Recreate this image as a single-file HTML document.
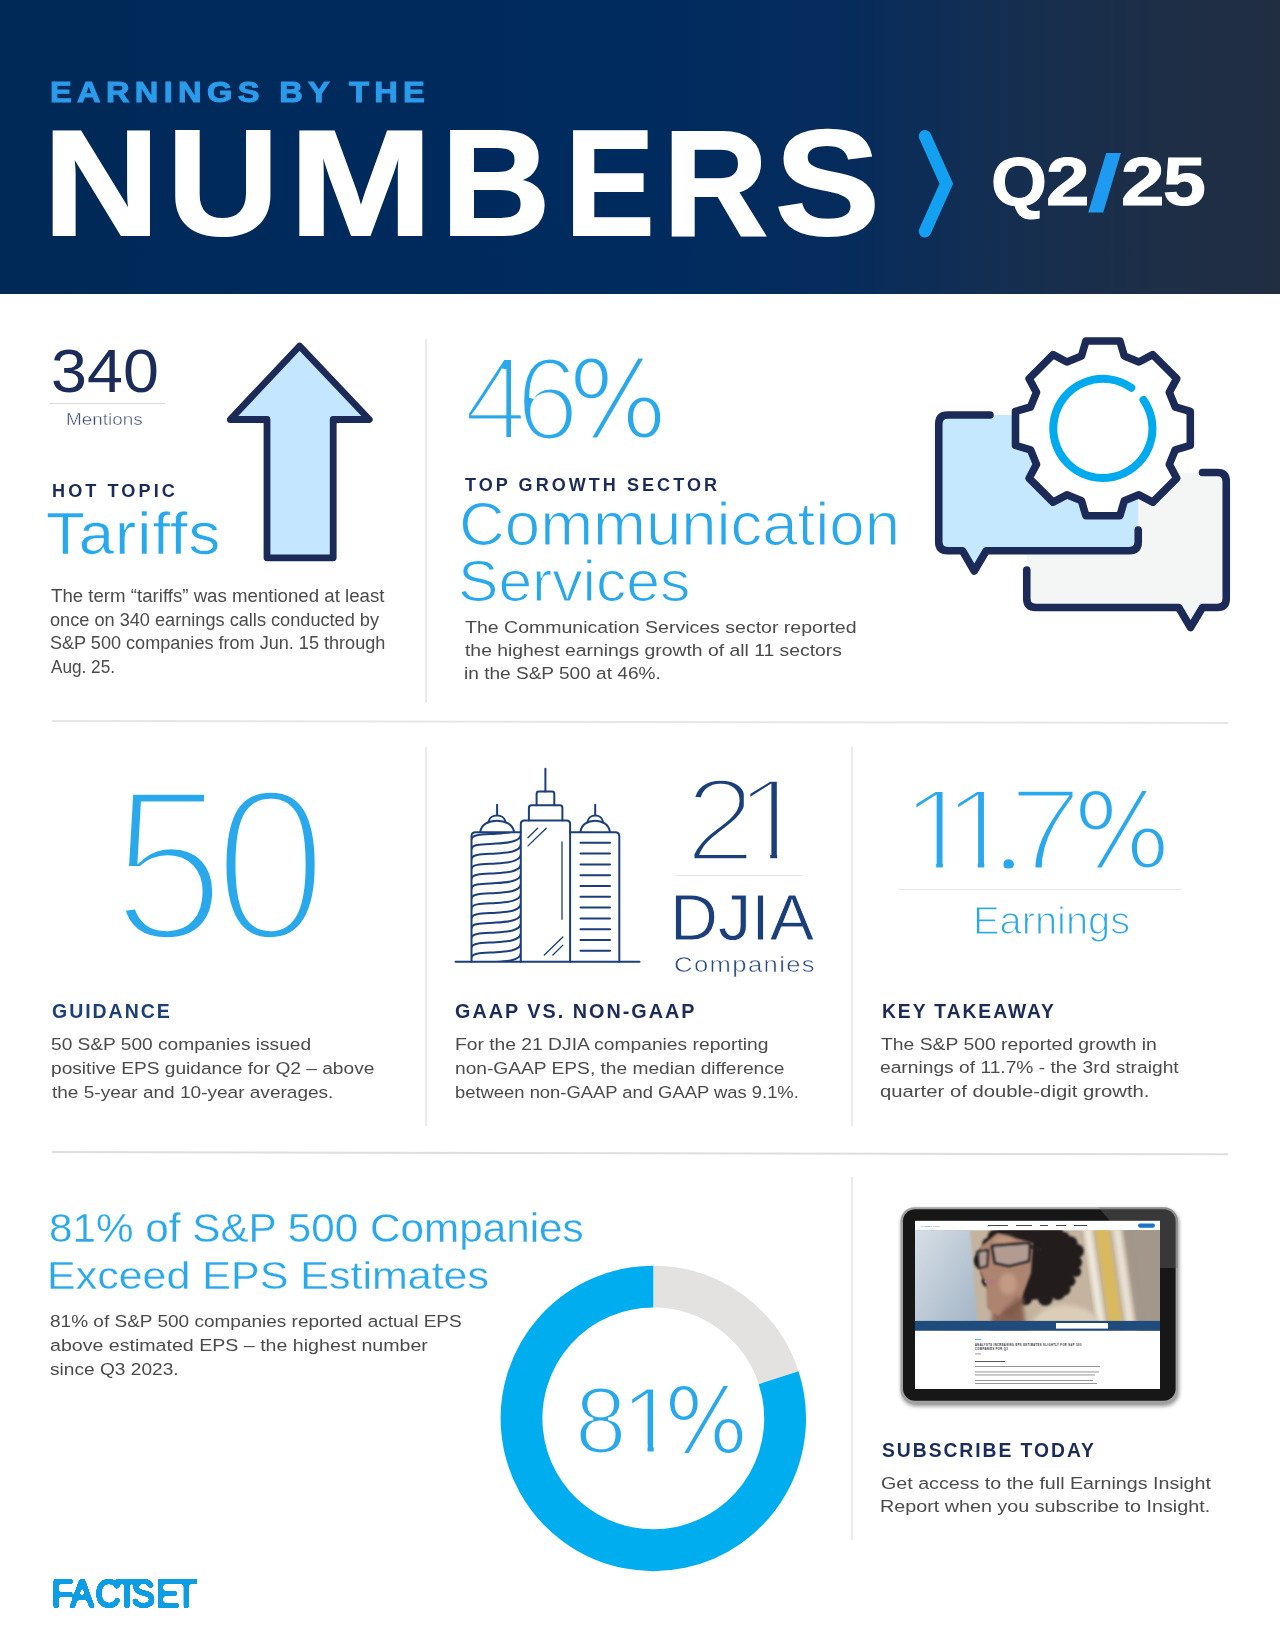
<!DOCTYPE html>
<html lang="en">
<head>
<meta charset="utf-8">
<title>Earnings by the Numbers Q2/25</title>
<style>
html,body{margin:0;padding:0;}
body{width:1280px;height:1650px;position:relative;overflow:hidden;background:#fff;font-family:"Liberation Sans",sans-serif;}
.a{position:absolute;white-space:nowrap;line-height:1;transform-origin:0 0;}
svg{position:absolute;overflow:visible;}
.vl{position:absolute;width:2px;background:#ebebeb;}
.hl{position:absolute;height:2px;background:#e6e6e6;}
.tl{position:absolute;height:1px;background:#dcdcdc;}
</style>
</head>
<body>
<div style="position:absolute;left:0;top:0;width:1280px;height:293.8px;background:linear-gradient(90deg,#002957 0%,#002b5f 50%,#062c5c 66%,#142e51 78%,#1d2e47 90%,#212e42 100%);"></div>
<svg style="left:0;top:0" width="1280" height="294" viewBox="0 0 1280 294"><path d="M925 136.25 L946.3 183.75 L925 231.25" fill="none" stroke="#14a0f0" stroke-width="12.5" stroke-linecap="round" stroke-linejoin="miter"/></svg>
<div class="vl" style="left:425px;top:339px;height:364px;"></div>
<div class="hl" style="left:51.5px;top:720.15px;width:1176px;height:1.8px;transform-origin:0 50%;transform:rotate(0.0925deg);"></div>
<div class="vl" style="left:425px;top:747px;height:379px;"></div>
<div class="vl" style="left:851px;top:747px;height:379px;"></div>
<div class="hl" style="left:51.5px;top:1150.65px;width:1176px;height:1.6px;background:#dedede;transform-origin:0 50%;transform:rotate(0.1146deg);"></div>
<div class="vl" style="left:851px;top:1177.4px;height:363px;"></div>
<div class="tl" style="left:49px;top:403px;width:116px;"></div>
<div class="tl" style="left:675px;top:874.5px;width:128px;background:#e8e8e8;"></div>
<div class="tl" style="left:899px;top:889.4px;width:282px;background:#e8e8e8;"></div>
<svg style="left:0;top:0" width="1280" height="1650" viewBox="0 0 1280 1650"><path d="M299.6 346 L369.3 419.5 L333.2 419.5 L333.2 557.8 L267 557.8 L267 419.5 L230.3 419.5 Z" fill="#c4e7ff" stroke="#1b2a56" stroke-width="6.8" stroke-linejoin="round"/></svg>
<svg style="left:0;top:0" width="1280" height="1650" viewBox="0 0 1280 1650">
<rect x="1026.75" y="472.5" width="199.5" height="135" fill="#f4f6f6"/>
<path d="M1178.75 607 L1190.5 627 L1202.5 607 Z" fill="#f4f6f6"/>
<rect x="938.75" y="415" width="199.5" height="135.75" fill="#c5e8ff"/>
<path d="M962.5 550 L974.25 570.5 L986.25 550 Z" fill="#c5e8ff"/>
<g fill="none" stroke="#1b2a56" stroke-width="7.6" stroke-linecap="round" stroke-linejoin="round">
<path d="M1202.5 472.5 H1217.25 Q1226.25 472.5 1226.25 481.5 V598.5 Q1226.25 607.5 1217.25 607.5 H1202.5 L1190.5 627.5 L1178.75 607.5 H1035.75 Q1026.75 607.5 1026.75 598.5 V570"/>
<path d="M990 415 H947.75 Q938.75 415 938.75 424 V541.75 Q938.75 550.75 947.75 550.75 H962.5 L974.25 571 L986.25 550.75 H1129.25 Q1138.25 550.75 1138.25 541.75 V530"/>
<path d="M1081.5 356.0 L1085.9 341.0 L1119.9 341.0 L1124.3 356.0 L1138.9 362.0 L1152.7 354.6 L1176.7 378.6 L1169.3 392.4 L1175.3 407.0 L1190.3 411.4 L1190.3 445.4 L1175.3 449.8 L1169.3 464.4 L1176.7 478.2 L1152.7 502.2 L1138.9 494.8 L1124.3 500.8 L1119.9 515.8 L1085.9 515.8 L1081.5 500.8 L1066.9 494.8 L1053.1 502.2 L1029.1 478.2 L1036.5 464.4 L1030.5 449.8 L1015.5 445.4 L1015.5 411.4 L1030.5 407.0 L1036.5 392.4 L1029.1 378.6 L1053.1 354.6 L1066.9 362.0 Z" fill="#fff"/>
<path d="M1143.5 400.0 A49.6 49.6 0 1 1 1131.3 387.8" stroke="#00aaee" stroke-width="8"/>
</g></svg>
<svg style="left:0;top:0" width="1280" height="1650" viewBox="0 0 1280 1650"><g fill="none" stroke="#1b3f7a" stroke-width="2" stroke-linecap="round" stroke-linejoin="round">
<path d="M455.5 961.8 H639.5"/>
<path d="M471.5 961.8 V836 Q471.5 832.2 475.5 832.2 H520.8"/>
<clipPath id="lb"><rect x="471.5" y="832.2" width="49.3" height="129.6"/></clipPath><g clip-path="url(#lb)">
<path d="M471.5 829.3 C472.3 824.3 483 824.7 496 823.9 C508 823.2 519.8 822.1 520.8 815.1"/>
<path d="M471.5 839.2 C472.3 834.2 483 834.6 496 833.8 C508 833.1 519.8 832.0 520.8 825.0"/>
<path d="M471.5 849.0 C472.3 844.0 483 844.4 496 843.6 C508 842.9 519.8 841.8 520.8 834.8"/>
<path d="M471.5 858.9 C472.3 853.9 483 854.3 496 853.5 C508 852.8 519.8 851.7 520.8 844.7"/>
<path d="M471.5 868.8 C472.3 863.8 483 864.2 496 863.4 C508 862.7 519.8 861.6 520.8 854.6"/>
<path d="M471.5 878.6 C472.3 873.6 483 874.0 496 873.2 C508 872.5 519.8 871.4 520.8 864.4"/>
<path d="M471.5 888.5 C472.3 883.5 483 883.9 496 883.1 C508 882.4 519.8 881.3 520.8 874.3"/>
<path d="M471.5 898.4 C472.3 893.4 483 893.8 496 893.0 C508 892.3 519.8 891.2 520.8 884.2"/>
<path d="M471.5 908.3 C472.3 903.3 483 903.7 496 902.9 C508 902.2 519.8 901.1 520.8 894.1"/>
<path d="M471.5 918.1 C472.3 913.1 483 913.5 496 912.7 C508 912.0 519.8 910.9 520.8 903.9"/>
<path d="M471.5 928.0 C472.3 923.0 483 923.4 496 922.6 C508 921.9 519.8 920.8 520.8 913.8"/>
<path d="M471.5 937.9 C472.3 932.9 483 933.3 496 932.5 C508 931.8 519.8 930.7 520.8 923.7"/>
<path d="M471.5 947.7 C472.3 942.7 483 943.1 496 942.3 C508 941.6 519.8 940.5 520.8 933.5"/>
<path d="M471.5 957.6 C472.3 952.6 483 953.0 496 952.2 C508 951.5 519.8 950.4 520.8 943.4"/>
<path d="M471.5 967.5 C472.3 962.5 483 962.9 496 962.1 C508 961.4 519.8 960.3 520.8 953.3"/>
<path d="M471.5 977.4 C472.3 972.4 483 972.8 496 972.0 C508 971.2 519.8 970.1 520.8 963.1"/>
</g>
<path d="M480.4 831.5 C482 817 512 817 513.9 831.5"/>
<path d="M488.5 821.5 C490 813.5 504 813.5 505.5 821.5"/>
<path d="M497.1 804.7 V815"/>
<path d="M520.8 961.8 V824 Q520.8 820.5 524.3 820.5 H566.6 Q570.1 820.5 570.1 824 V961.8"/>
<path d="M528.9 820.5 V807.8 Q528.9 805.3 531.4 805.3 H559.9 Q562.4 805.3 562.4 807.8 V820.5"/>
<path d="M536.6 805.3 V794 Q536.6 791.6 539 791.6 H551.9 Q554.3 791.6 554.3 794 V805.3"/>
<path d="M545.4 768.8 V791.6"/>
<g stroke-width="1.3"><path d="M528 837.7 L537.6 828.2 M528 845.9 L546.2 828.2 M562 842 V919.3 M544.3 955 L562.9 937 M552.9 955 L562.9 945.1"/></g>
<path d="M570.1 832.2 H615.3 Q619.3 832.2 619.3 836.2 V961.8"/>
<path d="M580.6 831.5 C582 817 608 817 609.8 831.5"/>
<path d="M587.5 821.5 C589 813.5 601.5 813.5 603 821.5"/>
<path d="M595.2 804.7 V815"/>
<path d="M580.5 842.8 H610"/>
<path d="M580.5 853.6 H610"/>
<path d="M580.5 864.4 H610"/>
<path d="M580.5 875.2 H610"/>
<path d="M580.5 886.0 H610"/>
<path d="M580.5 896.8 H610"/>
<path d="M580.5 907.6 H610"/>
<path d="M580.5 918.4 H610"/>
<path d="M580.5 929.2 H610"/>
<path d="M580.5 940.0 H610"/>
<path d="M580.5 950.8 H610"/>
</g></svg>
<svg style="left:0;top:0" width="1280" height="1650" viewBox="0 0 1280 1650"><g fill="none" stroke-width="41.8">
<path d="M653.3 1286.6000000000001 A131.8 131.8 0 0 1 778.65 1377.67" stroke="#e3e2e0"/>
<path d="M778.65 1377.67 A131.8 131.8 0 1 1 653.3 1286.6000000000001" stroke="#00adee"/>
</g></svg>
<svg style="left:0;top:0" width="1280" height="1650" viewBox="0 0 1280 1650">
<defs>
<filter id="sh" x="-10%" y="-10%" width="120%" height="125%"><feGaussianBlur stdDeviation="2.2"/></filter>
<filter id="f05" x="-20%" y="-20%" width="140%" height="140%"><feGaussianBlur stdDeviation="0.6"/></filter>
<filter id="f1" x="-20%" y="-20%" width="140%" height="140%"><feGaussianBlur stdDeviation="1.1"/></filter>
<filter id="b1" x="-20%" y="-20%" width="140%" height="140%"><feGaussianBlur stdDeviation="2"/></filter>
<filter id="b2" x="-20%" y="-20%" width="140%" height="140%"><feGaussianBlur stdDeviation="4"/></filter>
<clipPath id="scr"><rect x="915" y="1230.2" width="245" height="100.3"/></clipPath>
<clipPath id="bez"><rect x="900.5" y="1207.2" width="277.3" height="196.4" rx="14"/></clipPath>
<linearGradient id="mon" x1="0" y1="0" x2="1" y2="1"><stop offset="0" stop-color="#d9e1e8"/><stop offset="1" stop-color="#9fb1c3"/></linearGradient>
</defs>
<rect x="901.5" y="1209.5" width="277.3" height="196.4" rx="14" fill="#000" opacity="0.45" filter="url(#sh)"/>
<rect x="900.5" y="1207.2" width="277.3" height="196.4" rx="14" fill="#a2a2a2"/>
<rect x="903" y="1209.2" width="272.6" height="191.6" rx="12" fill="#171717"/>
<g clip-path="url(#bez)"><path d="M1098 1207 L1178 1207 L1178 1268 L1160 1268 L1160 1221 L1110 1221 Z" fill="#6b6b6b" opacity="0.4"/></g>
<rect x="915" y="1220.8" width="245" height="168.2" fill="#fff"/>
<g clip-path="url(#scr)">
<rect x="915" y="1230" width="245" height="101" fill="#c3b39f"/>
<g transform="skewX(9)" filter="url(#b2)">
<rect x="1133" y="1215" width="60" height="130" transform="translate(-205 0)" fill="#9c9085"/>
</g>
<g transform="translate(0 0) skewX(8)">
<rect x="923" y="1220" width="13" height="120" fill="#d9b95c" filter="url(#b1)"/>
<rect x="911" y="1220" width="8" height="120" fill="#efe9dd" filter="url(#b1)"/>
<rect x="940" y="1220" width="9" height="120" fill="#e9e2d5" filter="url(#b1)"/>
<rect x="953" y="1220" width="60" height="120" fill="#a3978b" filter="url(#b2)"/>
</g>
<path d="M1028 1336 C1032 1314 1046 1305 1066 1305 C1086 1306 1100 1314 1106 1336 Z" fill="#dccdb8" filter="url(#b1)"/>
<g fill="#211c1a" filter="url(#f1)"><ellipse cx="1030" cy="1262" rx="47" ry="38"/><circle cx="1076.0" cy="1262.2" r="6.1"/><circle cx="1076.0" cy="1271.6" r="5.2"/><circle cx="1069.7" cy="1281.0" r="5.8"/><circle cx="1064.1" cy="1289.2" r="6.4"/><circle cx="1058.0" cy="1293.2" r="6.9"/><circle cx="1045.3" cy="1298.1" r="7.6"/><circle cx="1025.0" cy="1298.0" r="7.3"/><circle cx="1013.7" cy="1296.7" r="5.1"/><circle cx="1004.8" cy="1293.2" r="7.2"/><circle cx="996.3" cy="1288.1" r="7.8"/><circle cx="988.0" cy="1280.9" r="6.3"/><circle cx="986.1" cy="1272.6" r="5.3"/><circle cx="981.5" cy="1260.9" r="7.9"/><circle cx="984.1" cy="1253.4" r="5.9"/><circle cx="988.4" cy="1243.9" r="6.1"/><circle cx="995.2" cy="1237.1" r="7.7"/><circle cx="1004.0" cy="1232.4" r="7.6"/><circle cx="1015.3" cy="1227.2" r="5.5"/><circle cx="1025.8" cy="1226.1" r="7.7"/><circle cx="1035.9" cy="1225.1" r="5.6"/><circle cx="1048.0" cy="1226.8" r="5.9"/><circle cx="1055.0" cy="1232.1" r="8.0"/><circle cx="1063.5" cy="1238.0" r="6.2"/><circle cx="1070.2" cy="1243.5" r="7.3"/><circle cx="1077.1" cy="1251.1" r="6.8"/></g>
<path d="M994 1300 L1022 1296 L1027 1336 L990 1336 Z" fill="#8a6453" filter="url(#b1)"/>
<path d="M997.5 1233 L1033 1243 L1031 1273 L1021 1300 L998 1316 L987 1308 L986 1284 L978.5 1268 L980 1247 Z" fill="#ad846f" filter="url(#f1)"/>
<ellipse cx="1008" cy="1284" rx="9" ry="11" fill="#cda58f" opacity="0.7" filter="url(#b1)"/>
<ellipse cx="1004" cy="1240" rx="10" ry="5" fill="#c9a08a" opacity="0.6" filter="url(#b1)"/>
<path d="M1018 1296 L1000 1314 L1012 1318 L1024 1300 Z" fill="#7b5848" opacity="0.7" filter="url(#b1)"/>
<g filter="url(#f1)">
<path d="M992 1246 L1030 1243 L1029 1261 L1009 1266 L995 1263 Z" fill="#c4cfe0" fill-opacity="0.3" stroke="#2a2220" stroke-width="2.6" stroke-linejoin="round"/>
<path d="M977 1252 L988 1250 L987 1266 L979 1268 Z" fill="#c4cfe0" fill-opacity="0.3" stroke="#2a2220" stroke-width="2.2" stroke-linejoin="round"/>
<path d="M1030 1246 L1042 1250" stroke="#2a2220" stroke-width="3"/>
</g>
<ellipse cx="990.5" cy="1281.5" rx="6" ry="2.6" fill="#b27a84" opacity="0.9" filter="url(#f05)"/>
<path d="M912 1226 H969.7 L978.6 1336 H912 Z" fill="url(#mon)" filter="url(#f1)"/>
</g>
<rect x="915" y="1320.9" width="245" height="9.8" fill="#1f4b7d"/>
<rect x="1056" y="1323" width="52" height="5.6" fill="#fff"/>
<rect x="1138" y="1223.5" width="17" height="4.2" rx="2.1" fill="#1976c8"/>
<g fill="#444"><rect x="988" y="1225" width="20" height="1" /><rect x="1016" y="1225" width="16" height="1"/><rect x="1040" y="1225" width="8" height="1"/><rect x="1056" y="1225" width="10" height="1"/><rect x="1074" y="1225" width="13" height="1"/></g>
<rect x="975" y="1339" width="6" height="0.8" fill="#29a8ec"/>
<g fill="#8a8a8a"><rect x="975" y="1366" width="125" height="0.9"/><rect x="975" y="1371.5" width="124" height="0.9"/><rect x="975" y="1374.5" width="120" height="0.9"/><rect x="975" y="1380" width="118" height="0.9"/><rect x="975" y="1383" width="122" height="0.9"/><rect x="975" y="1361" width="30" height="1" fill="#555"/><rect x="975" y="1353.5" width="6" height="0.8"/></g>
<text x="975" y="1346.2" font-family="Liberation Sans, sans-serif" font-weight="700" font-size="2.6" letter-spacing="0.45" fill="#222">ANALYSTS INCREASING EPS ESTIMATES SLIGHTLY FOR S&amp;P 500</text>
<text x="975" y="1350" font-family="Liberation Sans, sans-serif" font-weight="700" font-size="2.6" letter-spacing="0.45" fill="#222">COMPANIES FOR Q3</text>
<text x="921" y="1226.6" font-family="Liberation Sans, sans-serif" font-weight="700" font-size="2.4" fill="#2b9bea">FACTSET <tspan fill="#888" font-weight="400">Insight</tspan></text>
</svg>
<div class="a" style="left:50.20px;top:78.20px;font-size:28.69px;color:#2b9bea;font-weight:700;letter-spacing:4.7px;-webkit-text-stroke:1.0px #2b9bea;transform:scaleX(1.1363);">EARNINGS BY THE</div>
<div class="a" style="left:51.30px;top:339.70px;font-size:61.92px;color:#1b2b5a;font-weight:400;transform:scaleX(1.0439);">340</div>
<div class="a" style="left:65.80px;top:411.00px;font-size:16.49px;color:#34446f;font-weight:400;-webkit-text-stroke:0.4px #fff;transform:scaleX(1.1452);">Mentions</div>
<div class="a" style="left:51.80px;top:482.70px;font-size:17.59px;color:#1b2b5a;font-weight:700;letter-spacing:3px;transform:scaleX(1.0287);">HOT TOPIC</div>
<div class="a" style="left:46.00px;top:504.40px;font-size:60.11px;color:#29a8ec;font-weight:400;letter-spacing:1px;-webkit-text-stroke:0.6px #fff;transform:scaleX(1.0551);">Tariffs</div>
<div class="a" style="left:465.20px;top:477.00px;font-size:17.75px;color:#1b2b5a;font-weight:700;letter-spacing:3px;transform:scaleX(1.0152);">TOP GROWTH SECTOR</div>
<div class="a" style="left:458.60px;top:493.50px;font-size:61.18px;color:#29a8ec;font-weight:400;-webkit-text-stroke:1.2px #fff;transform:scaleX(1.0376);">Communication</div>
<div class="a" style="left:457.50px;top:553.20px;font-size:57.14px;color:#29a8ec;font-weight:400;-webkit-text-stroke:1.2px #fff;transform:scaleX(1.0603);">Services</div>
<div class="a" style="left:51.50px;top:1001.00px;font-size:20.78px;color:#1b3f7a;font-weight:700;letter-spacing:2.1px;transform:scaleX(0.9383);">GUIDANCE</div>
<div class="a" style="left:670.00px;top:887.30px;font-size:63.94px;color:#1b3f7a;font-weight:400;-webkit-text-stroke:0.8px #fff;transform:scaleX(1.0394);">DJIA</div>
<div class="a" style="left:674.30px;top:953.80px;font-size:22.54px;color:#2b4a80;font-weight:400;letter-spacing:1.2px;-webkit-text-stroke:0.5px #fff;transform:scaleX(1.1384);">Companies</div>
<div class="a" style="left:455.20px;top:1001.00px;font-size:20.78px;color:#1b2b5a;font-weight:700;letter-spacing:2.1px;transform:scaleX(0.9531);">GAAP VS. NON-GAAP</div>
<div class="a" style="left:972.50px;top:900.50px;font-size:39.40px;color:#29a8ec;font-weight:400;-webkit-text-stroke:1.2px #fff;transform:scaleX(1.0107);">Earnings</div>
<div class="a" style="left:881.50px;top:1001.00px;font-size:20.78px;color:#1b2b5a;font-weight:700;letter-spacing:2.1px;transform:scaleX(0.9270);">KEY TAKEAWAY</div>
<div class="a" style="left:48.90px;top:1207.60px;font-size:40.96px;color:#29a8ec;font-weight:400;-webkit-text-stroke:0.3px #fff;transform:scaleX(1.0315);">81% of S&amp;P 500 Companies</div>
<div class="a" style="left:46.90px;top:1255.60px;font-size:39.33px;color:#29a8ec;font-weight:400;-webkit-text-stroke:0.3px #fff;transform:scaleX(1.0930);">Exceed EPS Estimates</div>
<div class="a" style="left:881.50px;top:1440.00px;font-size:20.78px;color:#1b2b5a;font-weight:700;letter-spacing:2.1px;transform:scaleX(0.9299);">SUBSCRIBE TODAY</div>
<div class="a" style="left:51.20px;top:587.80px;font-size:17.60px;color:#4b4b4b;font-weight:400;transform:scaleX(1.0600);">The term “tariffs” was mentioned at least</div>
<div class="a" style="left:50.20px;top:611.60px;font-size:17.60px;color:#4b4b4b;font-weight:400;transform:scaleX(1.0318);">once on 340 earnings calls conducted by</div>
<div class="a" style="left:50.20px;top:635.40px;font-size:17.60px;color:#4b4b4b;font-weight:400;transform:scaleX(1.0275);">S&amp;P 500 companies from Jun. 15 through</div>
<div class="a" style="left:51.20px;top:659.20px;font-size:17.60px;color:#4b4b4b;font-weight:400;transform:scaleX(0.9766);">Aug. 25.</div>
<div class="a" style="left:465.10px;top:619.58px;font-size:16.80px;color:#4b4b4b;font-weight:400;transform:scaleX(1.1628);">The Communication Services sector reported</div>
<div class="a" style="left:465.10px;top:642.58px;font-size:16.80px;color:#4b4b4b;font-weight:400;transform:scaleX(1.1523);">the highest earnings growth of all 11 sectors</div>
<div class="a" style="left:464.10px;top:665.58px;font-size:16.80px;color:#4b4b4b;font-weight:400;transform:scaleX(1.1357);">in the S&amp;P 500 at 46%.</div>
<div class="a" style="left:50.90px;top:1037.08px;font-size:16.80px;color:#4b4b4b;font-weight:400;transform:scaleX(1.1394);">50 S&amp;P 500 companies issued</div>
<div class="a" style="left:50.90px;top:1061.13px;font-size:16.80px;color:#4b4b4b;font-weight:400;transform:scaleX(1.1402);">positive EPS guidance for Q2 – above</div>
<div class="a" style="left:51.90px;top:1085.18px;font-size:16.80px;color:#4b4b4b;font-weight:400;transform:scaleX(1.1338);">the 5-year and 10-year averages.</div>
<div class="a" style="left:455.20px;top:1037.08px;font-size:16.80px;color:#4b4b4b;font-weight:400;transform:scaleX(1.1472);">For the 21 DJIA companies reporting</div>
<div class="a" style="left:455.20px;top:1061.13px;font-size:16.80px;color:#4b4b4b;font-weight:400;transform:scaleX(1.1416);">non-GAAP EPS, the median difference</div>
<div class="a" style="left:455.20px;top:1085.18px;font-size:16.80px;color:#4b4b4b;font-weight:400;transform:scaleX(1.0958);">between non-GAAP and GAAP was 9.1%.</div>
<div class="a" style="left:881.20px;top:1037.08px;font-size:16.80px;color:#4b4b4b;font-weight:400;transform:scaleX(1.1519);">The S&amp;P 500 reported growth in</div>
<div class="a" style="left:880.20px;top:1060.38px;font-size:16.80px;color:#4b4b4b;font-weight:400;transform:scaleX(1.1448);">earnings of 11.7% - the 3rd straight</div>
<div class="a" style="left:880.20px;top:1083.68px;font-size:16.80px;color:#4b4b4b;font-weight:400;transform:scaleX(1.2086);">quarter of double-digit growth.</div>
<div class="a" style="left:49.90px;top:1313.88px;font-size:16.80px;color:#4b4b4b;font-weight:400;transform:scaleX(1.1326);">81% of S&amp;P 500 companies reported actual EPS</div>
<div class="a" style="left:49.90px;top:1337.93px;font-size:16.80px;color:#4b4b4b;font-weight:400;transform:scaleX(1.1674);">above estimated EPS – the highest number</div>
<div class="a" style="left:49.90px;top:1361.98px;font-size:16.80px;color:#4b4b4b;font-weight:400;transform:scaleX(1.1391);">since Q3 2023.</div>
<div class="a" style="left:881.40px;top:1475.88px;font-size:16.80px;color:#4b4b4b;font-weight:400;transform:scaleX(1.1712);">Get access to the full Earnings Insight</div>
<div class="a" style="left:880.40px;top:1499.38px;font-size:16.80px;color:#4b4b4b;font-weight:400;transform:scaleX(1.1759);">Report when you subscribe to Insight.</div>
<div class="a" style="left:0;top:339.70px;font-size:118.16px;font-weight:400;color:#29a8ec;-webkit-text-stroke:5px #ffffff;"><span style="position:absolute;left:463.75px;top:0.00px;transform-origin:0 0;transform:scaleX(0.9727);">4</span><span style="position:absolute;left:516.00px;top:0.00px;transform-origin:0 0;transform:scaleX(0.9601);">6</span><span style="position:absolute;left:567.70px;top:5.10px;transform-origin:0 0;transform:scaleX(0.9596);font-family:'DejaVu Sans',sans-serif;font-size:109.06px;-webkit-text-stroke-width:3.0px;">%</span></div>
<div class="a" style="left:0;top:756.50px;font-size:216.40px;font-weight:400;color:#29a8ec;-webkit-text-stroke:9.6px #ffffff;"><span style="position:absolute;left:112.25px;top:0.00px;transform-origin:0 0;transform:scaleX(0.9403);">5</span><span style="position:absolute;left:214.00px;top:0.00px;transform-origin:0 0;transform:scaleX(0.9404);">0</span></div>
<div class="a" style="left:0;top:762.30px;font-size:117.91px;font-weight:400;color:#1b3f7a;-webkit-text-stroke:5.6px #ffffff;"><span style="position:absolute;left:684.60px;top:0.00px;transform-origin:0 0;transform:scaleX(1.0793);">2</span><span style="position:absolute;left:734.00px;top:0.00px;transform-origin:0 0;transform:scaleX(1.1501);clip-path:polygon(-50px -50px, 500px -50px, 500px 90.5px, 37.5px 90.5px, 37.5px 500px, 31.5px 500px, 31.5px 90.5px, -50px 90.5px);">1</span></div>
<div class="a" style="left:0;top:772.30px;font-size:116.90px;font-weight:400;color:#29a8ec;-webkit-text-stroke:5px #ffffff;"><span style="position:absolute;left:900.90px;top:0.00px;transform-origin:0 0;transform:scaleX(1.1167);clip-path:polygon(-50px -50px, 500px -50px, 500px 89.5px, 37.5px 89.5px, 37.5px 500px, 31.5px 500px, 31.5px 89.5px, -50px 89.5px);">1</span><span style="position:absolute;left:942.80px;top:0.00px;transform-origin:0 0;transform:scaleX(1.1001);clip-path:polygon(-50px -50px, 500px -50px, 500px 89.5px, 37.5px 89.5px, 37.5px 500px, 31.5px 500px, 31.5px 89.5px, -50px 89.5px);">1</span><span style="position:absolute;left:986.60px;top:0.00px;transform-origin:0 0;transform:scaleX(1.3501);-webkit-text-stroke-width:3px;clip-path:ellipse(4.07px 5.00px at 15.92px 92.00px);">.</span><span style="position:absolute;left:1009.40px;top:0.00px;transform-origin:0 0;transform:scaleX(1.1225);">7</span><span style="position:absolute;left:1073.00px;top:8.00px;transform-origin:0 0;transform:scaleX(0.9812);font-family:'DejaVu Sans',sans-serif;font-size:104.83px;-webkit-text-stroke-width:3.0px;">%</span></div>
<div class="a" style="left:0;top:108.00px;font-size:149.99px;font-weight:700;color:#ffffff;-webkit-text-stroke:2px #ffffff;"><span style="position:absolute;left:42.50px;top:0.00px;transform-origin:0 0;transform:scaleX(1.0778);">N</span><span style="position:absolute;left:167.00px;top:0.00px;transform-origin:0 0;transform:scaleX(1.0327);">U</span><span style="position:absolute;left:289.00px;top:0.00px;transform-origin:0 0;transform:scaleX(1.1496);">M</span><span style="position:absolute;left:441.00px;top:0.00px;transform-origin:0 0;transform:scaleX(1.0106);">B</span><span style="position:absolute;left:565.00px;top:0.00px;transform-origin:0 0;transform:scaleX(0.8953);">E</span><span style="position:absolute;left:662.50px;top:0.00px;transform-origin:0 0;transform:scaleX(0.9694);">R</span><span style="position:absolute;left:775.00px;top:0.00px;transform-origin:0 0;transform:scaleX(1.0478);">S</span></div>
<div class="a" style="left:0;top:147.00px;font-size:69.18px;font-weight:700;color:#ffffff;-webkit-text-stroke:1px #ffffff;"><span style="position:absolute;left:991.00px;top:0.00px;transform-origin:0 0;transform:scaleX(1.0401);">Q</span><span style="position:absolute;left:1045.50px;top:0.00px;transform-origin:0 0;transform:scaleX(1.1324);">2</span><span style="position:absolute;left:1087.00px;top:-3.00px;transform-origin:0 0;transform:scaleX(1.5794);font-size:80.06px;-webkit-text-stroke-width:0.01px;color:#1e9bf0;-webkit-text-stroke-color:#1e9bf0;">/</span><span style="position:absolute;left:1121.25px;top:0.00px;transform-origin:0 0;transform:scaleX(1.1324);">2</span><span style="position:absolute;left:1163.00px;top:0.00px;transform-origin:0 0;transform:scaleX(1.1145);">5</span></div>
<div class="a" style="left:0;top:1372.70px;font-size:95.44px;font-weight:400;color:#29a8ec;-webkit-text-stroke:3.1px #ffffff;"><span style="position:absolute;left:574.50px;top:0.00px;transform-origin:0 0;transform:scaleX(0.9707);">8</span><span style="position:absolute;left:620.60px;top:0.00px;transform-origin:0 0;transform:scaleX(1.0400);clip-path:polygon(-50px -50px, 500px -50px, 500px 71.5px, 31.5px 71.5px, 31.5px 500px, 25.5px 500px, 25.5px 71.5px, -50px 71.5px);">1</span><span style="position:absolute;left:663.80px;top:4.30px;transform-origin:0 0;transform:scaleX(0.9784);font-family:'DejaVu Sans',sans-serif;font-size:90.61px;-webkit-text-stroke-width:2.2px;">%</span></div>
<svg style="left:0;top:0" width="1280" height="1650" viewBox="0 0 1280 1650"><defs><filter id="goo" x="-5%" y="-20%" width="110%" height="140%" color-interpolation-filters="sRGB"><feGaussianBlur in="SourceGraphic" stdDeviation="1.3"/><feColorMatrix type="matrix" values="0 0 0 0 0.051  0 0 0 0 0.616  0 0 0 0 0.898  0 0 0 14 -6.5"/></filter></defs><text transform="scale(0.9,1)" x="57.5 78.2 106.1 129.2 146.4 173.3 195.2" y="1606.6" font-family="Liberation Sans, sans-serif" font-size="38.6" font-weight="400" fill="#0d9de5" stroke="#0d9de5" stroke-width="2.7" stroke-linejoin="round" filter="url(#goo)">FACTSET</text></svg>
</body>
</html>
